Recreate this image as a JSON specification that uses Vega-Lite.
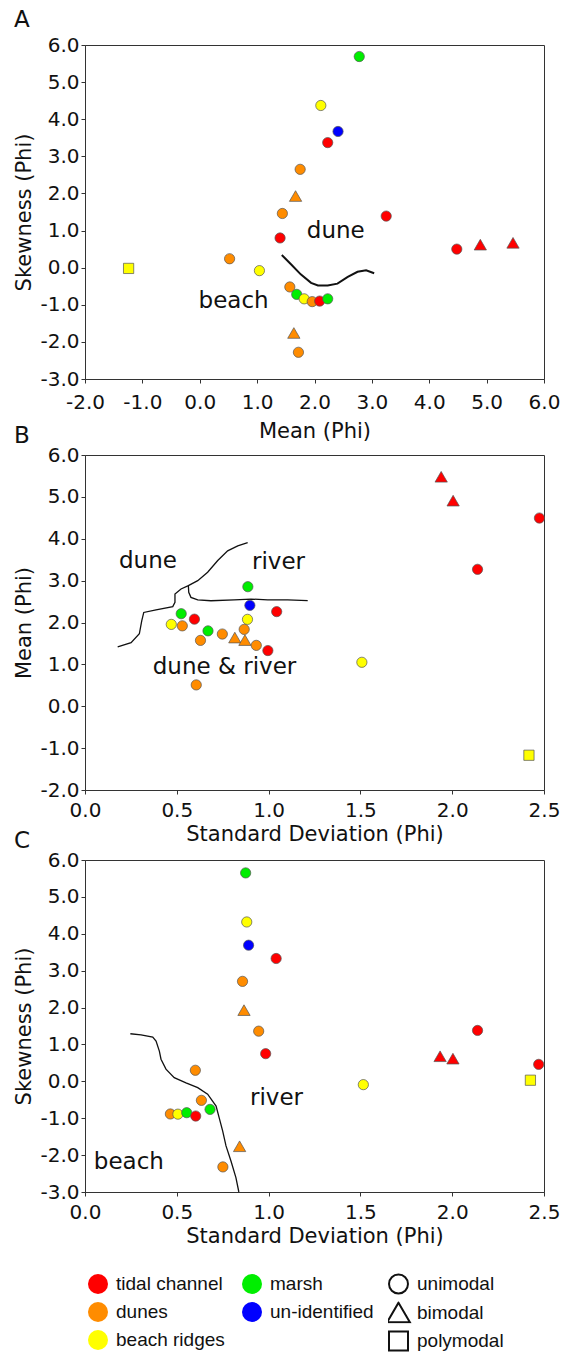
{
  "$schema": "https://vega.github.io/schema/vega-lite/v6.json",
  "padding": {"left": 13, "top": 8, "right": 0, "bottom": 0},
  "background": "white",
  "datasets": {
    "samplesA": [
      {"mean": 2.78, "skewness": 5.69, "source": "marsh", "mode": "unimodal"},
      {"mean": 2.11, "skewness": 4.37, "source": "beach ridges", "mode": "unimodal"},
      {"mean": 2.41, "skewness": 3.67, "source": "un-identified", "mode": "unimodal"},
      {"mean": 2.23, "skewness": 3.37, "source": "tidal channel", "mode": "unimodal"},
      {"mean": 1.75, "skewness": 2.65, "source": "dunes", "mode": "unimodal"},
      {"mean": 1.67, "skewness": 1.93, "source": "dunes", "mode": "bimodal"},
      {"mean": 1.44, "skewness": 1.46, "source": "dunes", "mode": "unimodal"},
      {"mean": 3.25, "skewness": 1.39, "source": "tidal channel", "mode": "unimodal"},
      {"mean": 1.40, "skewness": 0.80, "source": "tidal channel", "mode": "unimodal"},
      {"mean": 4.48, "skewness": 0.50, "source": "tidal channel", "mode": "unimodal"},
      {"mean": 4.89, "skewness": 0.62, "source": "tidal channel", "mode": "bimodal"},
      {"mean": 5.46, "skewness": 0.67, "source": "tidal channel", "mode": "bimodal"},
      {"mean": 0.52, "skewness": 0.24, "source": "dunes", "mode": "unimodal"},
      {"mean": -1.24, "skewness": -0.02, "source": "beach ridges", "mode": "polymodal"},
      {"mean": 1.04, "skewness": -0.08, "source": "beach ridges", "mode": "unimodal"},
      {"mean": 1.57, "skewness": -0.52, "source": "dunes", "mode": "unimodal"},
      {"mean": 1.69, "skewness": -0.72, "source": "marsh", "mode": "unimodal"},
      {"mean": 1.82, "skewness": -0.84, "source": "beach ridges", "mode": "unimodal"},
      {"mean": 1.96, "skewness": -0.915, "source": "dunes", "mode": "unimodal"},
      {"mean": 2.09, "skewness": -0.90, "source": "tidal channel", "mode": "unimodal"},
      {"mean": 2.23, "skewness": -0.84, "source": "marsh", "mode": "unimodal"},
      {"mean": 1.64, "skewness": -1.76, "source": "dunes", "mode": "bimodal"},
      {"mean": 1.72, "skewness": -2.28, "source": "dunes", "mode": "unimodal"}
    ],
    "samplesB": [
      {"std_dev": 1.94, "mean": 5.48, "source": "tidal channel", "mode": "bimodal"},
      {"std_dev": 2.005, "mean": 4.91, "source": "tidal channel", "mode": "bimodal"},
      {"std_dev": 2.475, "mean": 4.495, "source": "tidal channel", "mode": "unimodal"},
      {"std_dev": 2.138, "mean": 3.27, "source": "tidal channel", "mode": "unimodal"},
      {"std_dev": 0.887, "mean": 2.855, "source": "marsh", "mode": "unimodal"},
      {"std_dev": 0.898, "mean": 2.41, "source": "un-identified", "mode": "unimodal"},
      {"std_dev": 1.044, "mean": 2.26, "source": "tidal channel", "mode": "unimodal"},
      {"std_dev": 0.524, "mean": 2.21, "source": "marsh", "mode": "unimodal"},
      {"std_dev": 0.596, "mean": 2.08, "source": "tidal channel", "mode": "unimodal"},
      {"std_dev": 0.885, "mean": 2.075, "source": "beach ridges", "mode": "unimodal"},
      {"std_dev": 0.470, "mean": 1.955, "source": "beach ridges", "mode": "unimodal"},
      {"std_dev": 0.530, "mean": 1.92, "source": "dunes", "mode": "unimodal"},
      {"std_dev": 0.670, "mean": 1.80, "source": "marsh", "mode": "unimodal"},
      {"std_dev": 0.748, "mean": 1.725, "source": "dunes", "mode": "unimodal"},
      {"std_dev": 0.867, "mean": 1.836, "source": "dunes", "mode": "unimodal"},
      {"std_dev": 0.629, "mean": 1.573, "source": "dunes", "mode": "unimodal"},
      {"std_dev": 0.816, "mean": 1.64, "source": "dunes", "mode": "bimodal"},
      {"std_dev": 0.871, "mean": 1.58, "source": "dunes", "mode": "bimodal"},
      {"std_dev": 0.933, "mean": 1.454, "source": "dunes", "mode": "unimodal"},
      {"std_dev": 0.996, "mean": 1.33, "source": "tidal channel", "mode": "unimodal"},
      {"std_dev": 1.508, "mean": 1.05, "source": "beach ridges", "mode": "unimodal"},
      {"std_dev": 0.606, "mean": 0.51, "source": "dunes", "mode": "unimodal"},
      {"std_dev": 2.418, "mean": -1.17, "source": "beach ridges", "mode": "polymodal"}
    ],
    "samplesC": [
      {"std_dev": 0.875, "skewness": 5.65, "source": "marsh", "mode": "unimodal"},
      {"std_dev": 0.881, "skewness": 4.32, "source": "beach ridges", "mode": "unimodal"},
      {"std_dev": 0.891, "skewness": 3.69, "source": "un-identified", "mode": "unimodal"},
      {"std_dev": 1.041, "skewness": 3.33, "source": "tidal channel", "mode": "unimodal"},
      {"std_dev": 0.858, "skewness": 2.71, "source": "dunes", "mode": "unimodal"},
      {"std_dev": 0.866, "skewness": 1.93, "source": "dunes", "mode": "bimodal"},
      {"std_dev": 0.946, "skewness": 1.36, "source": "dunes", "mode": "unimodal"},
      {"std_dev": 2.138, "skewness": 1.38, "source": "tidal channel", "mode": "unimodal"},
      {"std_dev": 0.984, "skewness": 0.75, "source": "tidal channel", "mode": "unimodal"},
      {"std_dev": 1.934, "skewness": 0.68, "source": "tidal channel", "mode": "bimodal"},
      {"std_dev": 2.004, "skewness": 0.615, "source": "tidal channel", "mode": "bimodal"},
      {"std_dev": 2.471, "skewness": 0.46, "source": "tidal channel", "mode": "unimodal"},
      {"std_dev": 0.601, "skewness": 0.30, "source": "dunes", "mode": "unimodal"},
      {"std_dev": 2.426, "skewness": 0.03, "source": "beach ridges", "mode": "polymodal"},
      {"std_dev": 1.516, "skewness": -0.09, "source": "beach ridges", "mode": "unimodal"},
      {"std_dev": 0.634, "skewness": -0.515, "source": "dunes", "mode": "unimodal"},
      {"std_dev": 0.681, "skewness": -0.76, "source": "marsh", "mode": "unimodal"},
      {"std_dev": 0.465, "skewness": -0.885, "source": "dunes", "mode": "unimodal"},
      {"std_dev": 0.506, "skewness": -0.89, "source": "beach ridges", "mode": "unimodal"},
      {"std_dev": 0.554, "skewness": -0.85, "source": "marsh", "mode": "unimodal"},
      {"std_dev": 0.603, "skewness": -0.94, "source": "tidal channel", "mode": "unimodal"},
      {"std_dev": 0.842, "skewness": -1.76, "source": "dunes", "mode": "bimodal"},
      {"std_dev": 0.751, "skewness": -2.32, "source": "dunes", "mode": "unimodal"}
    ],
    "boundaryA": [
      {"i": 1, "mean": 1.43, "skewness": 0.34},
      {"i": 2, "mean": 1.59, "skewness": 0.09},
      {"i": 3, "mean": 1.76, "skewness": -0.18},
      {"i": 4, "mean": 1.94, "skewness": -0.41},
      {"i": 5, "mean": 2.06, "skewness": -0.48},
      {"i": 6, "mean": 2.23, "skewness": -0.48},
      {"i": 7, "mean": 2.40, "skewness": -0.43},
      {"i": 8, "mean": 2.58, "skewness": -0.25},
      {"i": 9, "mean": 2.75, "skewness": -0.11},
      {"i": 10, "mean": 2.90, "skewness": -0.07},
      {"i": 11, "mean": 3.04, "skewness": -0.15}
    ],
    "boundaryB": [
      {"line": "dune", "i": 1, "std_dev": 0.178, "mean": 1.42},
      {"line": "dune", "i": 2, "std_dev": 0.251, "mean": 1.52},
      {"line": "dune", "i": 3, "std_dev": 0.296, "mean": 1.73},
      {"line": "dune", "i": 4, "std_dev": 0.309, "mean": 2.04},
      {"line": "dune", "i": 5, "std_dev": 0.320, "mean": 2.24},
      {"line": "dune", "i": 6, "std_dev": 0.387, "mean": 2.30},
      {"line": "dune", "i": 7, "std_dev": 0.478, "mean": 2.38},
      {"line": "dune", "i": 8, "std_dev": 0.490, "mean": 2.48},
      {"line": "dune", "i": 9, "std_dev": 0.490, "mean": 2.68},
      {"line": "dune", "i": 10, "std_dev": 0.523, "mean": 2.80},
      {"line": "dune", "i": 11, "std_dev": 0.563, "mean": 2.88},
      {"line": "dune", "i": 12, "std_dev": 0.614, "mean": 3.00},
      {"line": "dune", "i": 13, "std_dev": 0.668, "mean": 3.20},
      {"line": "dune", "i": 14, "std_dev": 0.723, "mean": 3.48},
      {"line": "dune", "i": 15, "std_dev": 0.777, "mean": 3.71},
      {"line": "dune", "i": 16, "std_dev": 0.832, "mean": 3.83},
      {"line": "dune", "i": 17, "std_dev": 0.886, "mean": 3.91},
      {"line": "river", "i": 1, "std_dev": 0.563, "mean": 2.88},
      {"line": "river", "i": 2, "std_dev": 0.565, "mean": 2.72},
      {"line": "river", "i": 3, "std_dev": 0.577, "mean": 2.60},
      {"line": "river", "i": 4, "std_dev": 0.614, "mean": 2.54},
      {"line": "river", "i": 5, "std_dev": 0.686, "mean": 2.52},
      {"line": "river", "i": 6, "std_dev": 0.813, "mean": 2.54},
      {"line": "river", "i": 7, "std_dev": 0.904, "mean": 2.56},
      {"line": "river", "i": 8, "std_dev": 0.995, "mean": 2.54},
      {"line": "river", "i": 9, "std_dev": 1.104, "mean": 2.54},
      {"line": "river", "i": 10, "std_dev": 1.213, "mean": 2.52}
    ],
    "boundaryC": [
      {"i": 1, "std_dev": 0.247, "skewness": 1.29},
      {"i": 2, "std_dev": 0.305, "skewness": 1.26},
      {"i": 3, "std_dev": 0.369, "skewness": 1.20},
      {"i": 4, "std_dev": 0.387, "skewness": 1.09},
      {"i": 5, "std_dev": 0.405, "skewness": 0.82},
      {"i": 6, "std_dev": 0.414, "skewness": 0.60},
      {"i": 7, "std_dev": 0.441, "skewness": 0.33},
      {"i": 8, "std_dev": 0.486, "skewness": 0.10},
      {"i": 9, "std_dev": 0.550, "skewness": -0.04},
      {"i": 10, "std_dev": 0.614, "skewness": -0.17},
      {"i": 11, "std_dev": 0.668, "skewness": -0.35},
      {"i": 12, "std_dev": 0.714, "skewness": -0.67},
      {"i": 13, "std_dev": 0.731, "skewness": -0.99},
      {"i": 14, "std_dev": 0.750, "skewness": -1.35},
      {"i": 15, "std_dev": 0.768, "skewness": -1.75},
      {"i": 16, "std_dev": 0.795, "skewness": -2.16},
      {"i": 17, "std_dev": 0.822, "skewness": -2.61},
      {"i": 18, "std_dev": 0.838, "skewness": -3.0}
    ],
    "labelsA": [
      {"mean": 2.37, "skewness": 1.0, "label": "dune"},
      {"mean": 0.59, "skewness": -0.91, "label": "beach"}
    ],
    "labelsB": [
      {"std_dev": 0.343, "mean": 3.48, "label": "dune"},
      {"std_dev": 1.054, "mean": 3.44, "label": "river"},
      {"std_dev": 0.76, "mean": 0.94, "label": "dune & river"}
    ],
    "labelsC": [
      {"std_dev": 1.043, "skewness": -0.44, "label": "river"},
      {"std_dev": 0.239, "skewness": -2.2, "label": "beach"}
    ]
  },
  "config": {
    "view": {"stroke": "#333", "strokeWidth": 1},
    "axis": {
      "grid": false,
      "domainColor": "#333",
      "tickColor": "#333",
      "tickSize": 4,
      "labelFont": "DejaVu Sans",
      "labelFontSize": 20,
      "labelColor": "#111",
      "labelFlush": false,
      "labelOverlap": false,
      "labelExpr": "replace(format(datum.value, '.1f'), '\u2212', '-')",
      "titleFont": "DejaVu Sans",
      "titleFontSize": 21,
      "titleFontWeight": "normal",
      "titleColor": "#111"
    },
    "axisY": {"labelPadding": 2, "titlePadding": 5},
    "title": {"anchor": "start", "frame": "group", "font": "DejaVu Sans", "fontSize": 23, "fontWeight": "normal", "color": "#111", "dx": -71}
  },
  "spacing": 76,
  "bounds": "flush",
  "vconcat": [
    {
      "title": {"text": "A", "offset": 3.5},
      "width": 459,
      "height": 334,
      "encoding": {
        "x": {"field": "mean", "type": "quantitative", "scale": {"domain": [-2, 6], "nice": false, "zero": false}, "axis": {"title": "Mean (Phi)", "values": [-2, -1, 0, 1, 2, 3, 4, 5, 6], "labelPadding": 9, "titlePadding": 8}},
        "y": {"field": "skewness", "type": "quantitative", "scale": {"domain": [-3, 6], "nice": false, "zero": false}, "axis": {"title": "Skewness (Phi)", "values": [-3, -2, -1, 0, 1, 2, 3, 4, 5, 6]}}
      },
      "layer": [
        {"data": {"name": "boundaryA"}, "mark": {"type": "line", "color": "#111", "strokeWidth": 2}, "encoding": {"order": {"field": "i", "type": "quantitative"}}},
        {"data": {"name": "labelsA"}, "mark": {"type": "text", "font": "DejaVu Sans", "fontSize": 23, "color": "#111", "baseline": "middle", "align": "center"}, "encoding": {"text": {"field": "label"}}},
        {
          "data": {"name": "samplesA"},
          "mark": {"type": "point", "filled": true, "size": 105, "stroke": "#555", "strokeWidth": 0.7, "opacity": 1},
          "encoding": {
            "color": {"field": "source", "type": "nominal", "scale": {"domain": ["tidal channel", "dunes", "beach ridges", "marsh", "un-identified"], "range": ["#FF0000", "#FF8C00", "#FFFF00", "#00EE00", "#0000FF"]}, "legend": {"title": null, "orient": "none", "legendX": 3, "legendY": 1229, "columns": 2, "symbolType": "circle", "symbolSize": 400, "symbolStrokeWidth": 0, "labelFont": "Liberation Sans", "labelFontSize": 19, "labelColor": "#111", "labelOffset": 8, "columnPadding": 17, "rowPadding": 8}},
            "shape": {"field": "mode", "type": "nominal", "scale": {"domain": ["unimodal", "bimodal", "polymodal"], "range": ["circle", "M0,-1.04L1.2,1.04L-1.2,1.04Z", "square"]}, "legend": {"title": null, "orient": "none", "legendX": 303, "legendY": 1228, "clipHeight": 22, "symbolSize": 360, "symbolStrokeWidth": 2, "symbolStrokeColor": "#111", "symbolFillColor": "white", "labelFont": "Liberation Sans", "labelFontSize": 19, "labelColor": "#111", "labelOffset": 8, "rowPadding": 6.5, "encode": {"symbols": {"update": {"fill": {"value": "white"}, "stroke": {"value": "#111"}, "strokeWidth": {"value": 2}, "opacity": {"value": 1}}}}}}
          }
        }
      ]
    },
    {
      "spacing": 70,
      "bounds": "flush",
      "vconcat": [
        {
          "title": {"text": "B", "offset": -2.5},
          "width": 459,
          "height": 335,
          "encoding": {
            "x": {"field": "std_dev", "type": "quantitative", "scale": {"domain": [0, 2.5], "nice": false, "zero": false}, "axis": {"title": "Standard Deviation (Phi)", "values": [0, 0.5, 1, 1.5, 2, 2.5], "labelPadding": 6, "titlePadding": 3}},
            "y": {"field": "mean", "type": "quantitative", "scale": {"domain": [-2, 6], "nice": false, "zero": false}, "axis": {"title": "Mean (Phi)", "values": [-2, -1, 0, 1, 2, 3, 4, 5, 6]}}
          },
          "layer": [
            {"data": {"name": "boundaryB"}, "mark": {"type": "line", "color": "#111", "strokeWidth": 1.3}, "encoding": {"detail": {"field": "line"}, "order": {"field": "i", "type": "quantitative"}}},
            {"data": {"name": "labelsB"}, "mark": {"type": "text", "font": "DejaVu Sans", "fontSize": 23, "color": "#111", "baseline": "middle", "align": "center"}, "encoding": {"text": {"field": "label"}}},
            {
              "data": {"name": "samplesB"},
              "mark": {"type": "point", "filled": true, "size": 105, "stroke": "#555", "strokeWidth": 0.7, "opacity": 1},
              "encoding": {
                "color": {"field": "source", "type": "nominal", "scale": {"domain": ["tidal channel", "dunes", "beach ridges", "marsh", "un-identified"], "range": ["#FF0000", "#FF8C00", "#FFFF00", "#00EE00", "#0000FF"]}, "legend": {"title": null, "orient": "none", "legendX": 3, "legendY": 1229, "columns": 2, "symbolType": "circle", "symbolSize": 400, "symbolStrokeWidth": 0, "labelFont": "Liberation Sans", "labelFontSize": 19, "labelColor": "#111", "labelOffset": 8, "columnPadding": 17, "rowPadding": 8}},
                "shape": {"field": "mode", "type": "nominal", "scale": {"domain": ["unimodal", "bimodal", "polymodal"], "range": ["circle", "M0,-1.04L1.2,1.04L-1.2,1.04Z", "square"]}, "legend": {"title": null, "orient": "none", "legendX": 303, "legendY": 1228, "clipHeight": 22, "symbolSize": 360, "symbolStrokeWidth": 2, "symbolStrokeColor": "#111", "symbolFillColor": "white", "labelFont": "Liberation Sans", "labelFontSize": 19, "labelColor": "#111", "labelOffset": 8, "rowPadding": 6.5, "encode": {"symbols": {"update": {"fill": {"value": "white"}, "stroke": {"value": "#111"}, "strokeWidth": {"value": 2}, "opacity": {"value": 1}}}}}}
              }
            }
          ]
        },
        {
          "title": {"text": "C", "offset": -2.5},
          "width": 459,
          "height": 332,
          "encoding": {
            "x": {"field": "std_dev", "type": "quantitative", "scale": {"domain": [0, 2.5], "nice": false, "zero": false}, "axis": {"title": "Standard Deviation (Phi)", "values": [0, 0.5, 1, 1.5, 2, 2.5], "labelPadding": 6, "titlePadding": 3}},
            "y": {"field": "skewness", "type": "quantitative", "scale": {"domain": [-3, 6], "nice": false, "zero": false}, "axis": {"title": "Skewness (Phi)", "values": [-3, -2, -1, 0, 1, 2, 3, 4, 5, 6]}}
          },
          "layer": [
            {"data": {"name": "boundaryC"}, "mark": {"type": "line", "color": "#111", "strokeWidth": 1.3}, "encoding": {"order": {"field": "i", "type": "quantitative"}}},
            {"data": {"name": "labelsC"}, "mark": {"type": "text", "font": "DejaVu Sans", "fontSize": 23, "color": "#111", "baseline": "middle", "align": "center"}, "encoding": {"text": {"field": "label"}}},
            {
              "data": {"name": "samplesC"},
              "mark": {"type": "point", "filled": true, "size": 105, "stroke": "#555", "strokeWidth": 0.7, "opacity": 1},
              "encoding": {
                "color": {"field": "source", "type": "nominal", "scale": {"domain": ["tidal channel", "dunes", "beach ridges", "marsh", "un-identified"], "range": ["#FF0000", "#FF8C00", "#FFFF00", "#00EE00", "#0000FF"]}, "legend": {"title": null, "orient": "none", "legendX": 3, "legendY": 1229, "columns": 2, "symbolType": "circle", "symbolSize": 400, "symbolStrokeWidth": 0, "labelFont": "Liberation Sans", "labelFontSize": 19, "labelColor": "#111", "labelOffset": 8, "columnPadding": 17, "rowPadding": 8}},
                "shape": {"field": "mode", "type": "nominal", "scale": {"domain": ["unimodal", "bimodal", "polymodal"], "range": ["circle", "M0,-1.04L1.2,1.04L-1.2,1.04Z", "square"]}, "legend": {"title": null, "orient": "none", "legendX": 303, "legendY": 1228, "clipHeight": 22, "symbolSize": 360, "symbolStrokeWidth": 2, "symbolStrokeColor": "#111", "symbolFillColor": "white", "labelFont": "Liberation Sans", "labelFontSize": 19, "labelColor": "#111", "labelOffset": 8, "rowPadding": 6.5, "encode": {"symbols": {"update": {"fill": {"value": "white"}, "stroke": {"value": "#111"}, "strokeWidth": {"value": 2}, "opacity": {"value": 1}}}}}}
              }
            }
          ]
        }
      ]
    }
  ]
}
